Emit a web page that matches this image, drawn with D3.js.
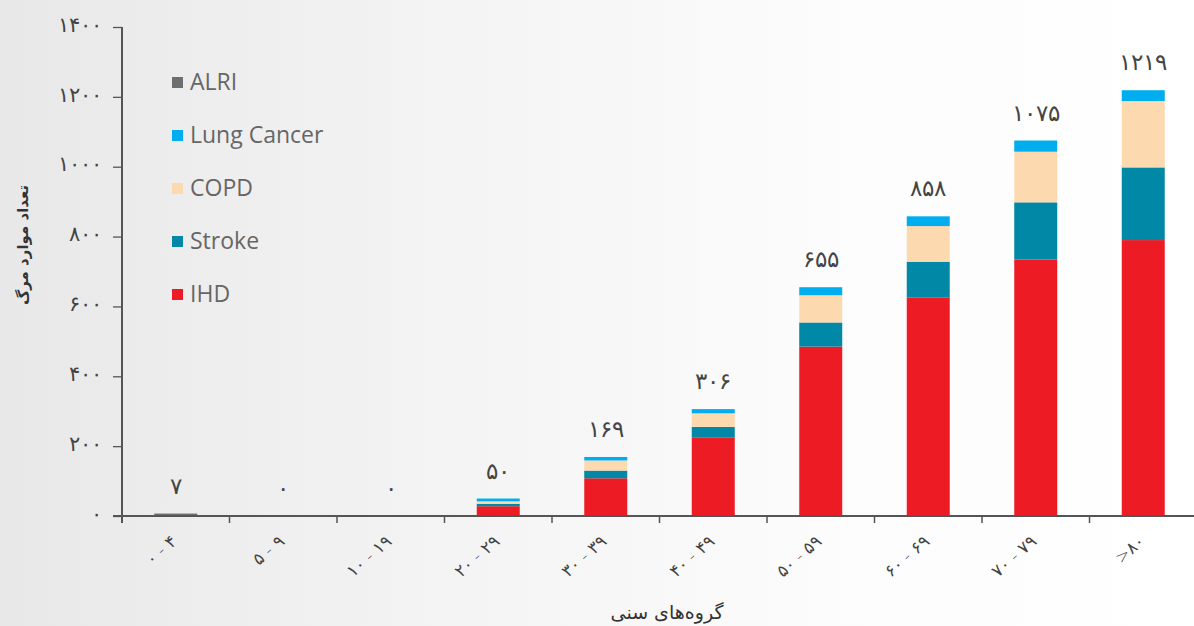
<!DOCTYPE html>
<html><head><meta charset="utf-8">
<script src="https://cdn.jsdelivr.net/npm/d3@7"></script>
<style>
html,body{margin:0;padding:0;background:#fff;}
svg{display:block;}
</style></head>
<body>
<svg id="chart" width="1194" height="626"></svg>
<script>
// ---- data ----
const ageGroups = ["۰ - ۴","۵ - ۹","۱۰ - ۱۹","۲۰ - ۲۹","۳۰ - ۳۹","۴۰ - ۴۹","۵۰ - ۵۹","۶۰ - ۶۹","۷۰ - ۷۹",">۸۰"];
const ihd    = [0, 0, 0, 28, 108, 224, 485, 626, 734, 790];
const stroke = [0, 0, 0, 7, 22, 31, 69, 102, 164, 208];
const copd   = [0, 0, 0, 7, 29, 39, 78, 102, 145, 190];
const lungCancer = [0, 0, 0, 8, 10, 12, 23, 28, 32, 31];
const alri   = [7, 0, 0, 0, 0, 0, 0, 0, 0, 0];
const totals = [7, 0, 0, 50, 169, 306, 655, 858, 1075, 1219];
const yTicks = [0, 200, 400, 600, 800, 1000, 1200, 1400];
const seriesNames = ["IHD", "Stroke", "COPD", "Lung Cancer", "ALRI"];
const seriesColors = ["#ED1C24", "#0088A6", "#FDD9B0", "#00AEEF", "#6D6E70"];
const yTitle = "تعداد موارد مرگ";
const xTitle = "گروه‌های سنی";

const fa = v => String(v).replace(/\d/g, d => "۰۱۲۳۴۵۶۷۸۹"[+d]);

const svg = d3.select("#chart");
const W = 1194, H = 626;

// background
const defs = svg.append("defs");
const lg = defs.append("linearGradient").attr("id","bg").attr("x1","0").attr("x2","1").attr("y1","0").attr("y2","0");
lg.append("stop").attr("offset","0").attr("stop-color","#e8e8e8");
lg.append("stop").attr("offset","0.35").attr("stop-color","#f3f3f3");
lg.append("stop").attr("offset","0.7").attr("stop-color","#fcfcfc");
lg.append("stop").attr("offset","1").attr("stop-color","#ffffff");
svg.append("rect").attr("width",W).attr("height",H).attr("fill","url(#bg)");

const table = ageGroups.map((g,i) => ({group:g, IHD:ihd[i], Stroke:stroke[i], COPD:copd[i], "Lung Cancer":lungCancer[i], ALRI:alri[i], total:totals[i]}));

const x0 = 122, x1 = 1197, yBase = 516, yTop = 27;
const x = d3.scaleBand().domain(ageGroups).range([x0, x1]).paddingInner(0.6).paddingOuter(0.3);
const xb = d3.scaleBand().domain(ageGroups).range([x0, x1]).padding(0);
const y = d3.scaleLinear().domain([0, 1400]).range([yBase, yTop]);
const color = d3.scaleOrdinal().domain(seriesNames).range(seriesColors);

const stack = d3.stack().keys(seriesNames)(table);

// bars
svg.append("g").selectAll("g").data(stack).join("g")
  .attr("fill", d => color(d.key))
  .selectAll("rect").data(d => d).join("rect")
  .attr("x", d => x(d.data.group))
  .attr("width", x.bandwidth())
  .attr("y", d => y(d[1]))
  .attr("height", d => Math.max(0, y(d[0]) - y(d[1])));

// y axis
const yAxis = svg.append("g").attr("transform", `translate(${x0},0)`)
  .call(d3.axisLeft(y).tickValues(yTicks).tickSize(9).tickPadding(11).tickFormat(fa));
yAxis.select(".domain").remove();
yAxis.selectAll(".tick line").attr("stroke","#555").attr("stroke-width",1.3);
yAxis.selectAll(".tick text")
  .attr("font-family","DejaVu Sans").attr("font-weight",300).attr("font-size",21).attr("fill","#444")
  .attr("dy","0.2em");

// axis lines
svg.append("line").attr("x1",x0).attr("x2",x0).attr("y1",y(1400)).attr("y2",yBase+7)
  .attr("stroke","#555").attr("stroke-width",2);
svg.append("line").attr("x1",x0-9).attr("x2",W).attr("y1",yBase).attr("y2",yBase)
  .attr("stroke","#555").attr("stroke-width",2);

// x boundary ticks
svg.append("g").selectAll("line").data(ageGroups.slice(1)).join("line")
  .attr("x1", d => xb(d)).attr("x2", d => xb(d))
  .attr("y1", yBase).attr("y2", yBase+7)
  .attr("stroke","#555").attr("stroke-width",1.5);

// x tick labels
svg.append("g").selectAll("text").data(ageGroups).join("text")
  .attr("transform", d => `translate(${x(d)+x.bandwidth()/2+2},${yBase+27}) rotate(-42)`)
  .attr("text-anchor","end")
  .attr("font-family","DejaVu Sans").attr("font-weight",300).attr("font-size",17).attr("fill","#444")
  .text(d => d);

// value labels
svg.append("g").selectAll("text").data(table).join("text")
  .attr("x", d => x(d.group)+x.bandwidth()/2)
  .attr("y", d => y(d.total) - 20)
  .attr("text-anchor","middle")
  .attr("font-family","DejaVu Sans").attr("font-weight",300).attr("font-size",23).attr("fill","#444")
  .text(d => fa(d.total));

// axis titles
svg.append("text")
  .attr("transform", `translate(28,245) rotate(-90)`)
  .attr("text-anchor","middle")
  .attr("font-family","DejaVu Sans").attr("font-size",15).attr("font-weight","bold").attr("fill","#333")
  .text(yTitle);
svg.append("text")
  .attr("x", 667).attr("y", 619)
  .attr("text-anchor","middle")
  .attr("font-family","DejaVu Sans").attr("font-size",19).attr("fill","#333")
  .text(xTitle);

// legend
const legendOrder = seriesNames.slice().reverse();
const lgG = svg.append("g").selectAll("g").data(legendOrder).join("g")
  .attr("transform", (d,i) => `translate(172,${82 + i*53})`);
lgG.append("rect").attr("x",0).attr("y",-5).attr("width",11).attr("height",11).attr("fill", d => color(d));
lgG.append("text").attr("x",18).attr("y",8)
  .attr("font-family","Open Sans").attr("font-size",23).attr("fill","#666")
  .text(d => d);
</script>
</body></html>
